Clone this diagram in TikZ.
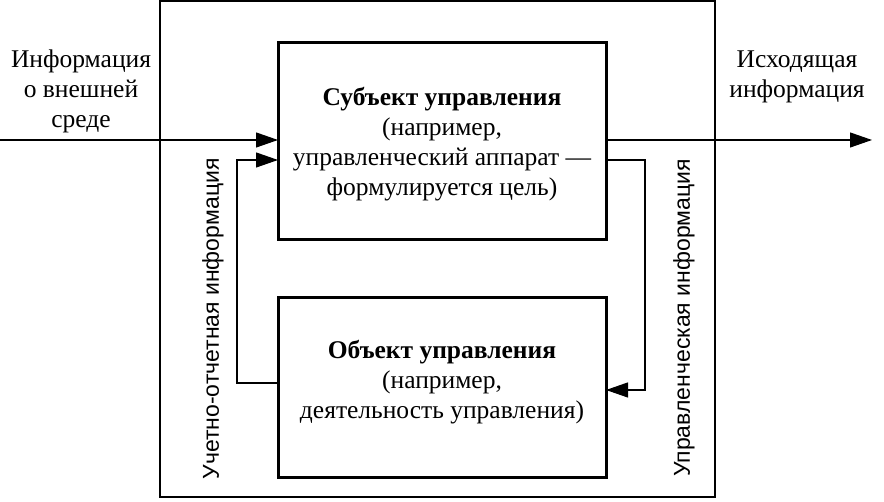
\documentclass[tikz,border=0pt]{standalone}
\usepackage{fontspec}
\setmainfont{Liberation Serif}
\setsansfont{Liberation Sans}
\usetikzlibrary{arrows.meta}
\begin{document}
\begin{tikzpicture}[x=1pt,y=1pt,
  box/.style={draw,line width=3pt},
  thin/.style={line width=1.1pt},
  arr/.style={thin,-{Triangle[length=22pt,width=15pt]}},
  lbl/.style={align=center,font=\fontsize{25.5}{30}\selectfont,inner sep=0pt},
  vlbl/.style={font=\sffamily\fontsize{23}{26}\selectfont,rotate=90,inner sep=0pt}]
\useasboundingbox (0,0) rectangle (884,502);
\draw[thin] (160,501) rectangle (715,5);
\draw[box] (278,459) rectangle (606,262);
\draw[box] (278,204) rectangle (606,24);
\node[lbl] (subjtext) at (442,358) {\textbf{Субъект управления}\\(например,\\управленческий аппарат —\\формулируется цель)};
\node[lbl] (objtext) at (442,120) {\textbf{Объект управления}\\(например,\\деятельность управления)};
\node[lbl] (inlbl) at (81,411) {Информация\\о внешней\\среде};
\node[lbl] (outlbl) at (797,425) {Исходящая\\информация};
\node[vlbl] (leftv) at (213,183) {Учетно-отчетная информация};
\node[vlbl] (rightv) at (684,184) {Управленческая информация};
\coordinate (inS) at (0,362);
\coordinate (inE) at (278,362);
\coordinate (outS) at (606,362);
\coordinate (outE) at (872,362);
\coordinate (fbS) at (278,119);
\coordinate (fbA) at (237,119);
\coordinate (fbB) at (237,342);
\coordinate (fbE) at (278,342);
\coordinate (ctS) at (606,342);
\coordinate (ctA) at (645,342);
\coordinate (ctB) at (645,112);
\coordinate (ctE) at (606,112);
\draw[arr] (inS) -- (inE);
\draw[arr] (outS) -- (outE);
\draw[arr] (fbS) -- (fbA) -- (fbB) -- (fbE);
\draw[arr] (ctS) -- (ctA) -- (ctB) -- (ctE);
\end{tikzpicture}
\end{document}
